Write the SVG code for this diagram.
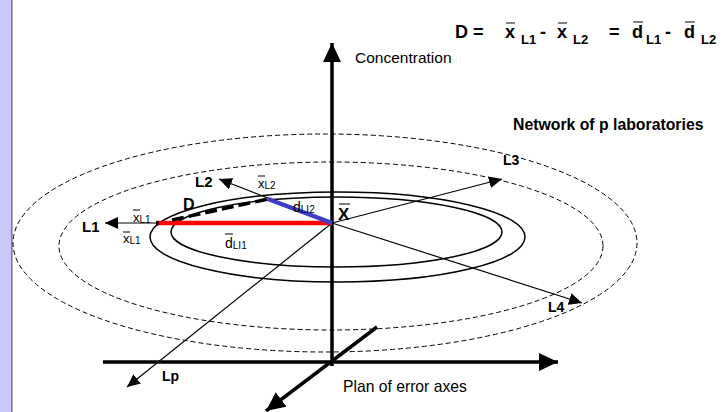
<svg xmlns="http://www.w3.org/2000/svg" width="726" height="412" viewBox="0 0 726 412">
<defs>
<style>
.t{font-family:"Liberation Sans",Arial,sans-serif;fill:#000}
.b{font-weight:bold}
.thin{stroke:#000;stroke-width:1.2;fill:none}
.dash{stroke:#000;stroke-width:1;fill:none;stroke-dasharray:5 3}
.sol{stroke:#000;stroke-width:1.5;fill:none}
.axis{stroke:#000;stroke-width:3.5;fill:none}
.bar{stroke:#000;stroke-width:1}
</style>
<marker id="ah" markerUnits="userSpaceOnUse" markerWidth="14" markerHeight="12" refX="13" refY="6" orient="auto">
<path d="M0,0 L13,6 L0,12 Z" fill="#000"/>
</marker>
<marker id="ahb" markerUnits="userSpaceOnUse" markerWidth="20" markerHeight="20" refX="19" refY="9" orient="auto">
<path d="M0,0 L19,9 L0,18 Z" fill="#000"/>
</marker>
</defs>
<rect x="0" y="0" width="726" height="412" fill="#fff"/>
<rect x="0" y="0" width="11" height="412" fill="#c8c8f8"/>
<rect x="11" y="0" width="1.6" height="412" fill="#7a7a92"/>

<g id="ellipses">
<ellipse class="dash" cx="325" cy="243" rx="312" ry="109"/>
<ellipse class="dash" cx="331" cy="246" rx="272" ry="84"/>
<ellipse class="sol" cx="337.5" cy="237" rx="187.5" ry="45"/>
<ellipse class="sol" cx="336.5" cy="232" rx="165.5" ry="35"/>
</g>

<g id="connectors">
<line class="axis" x1="103" y1="362" x2="558" y2="362" marker-end="url(#ahb)"/>
<line class="axis" x1="332" y1="366" x2="332" y2="43" marker-end="url(#ahb)"/>
<line class="axis" x1="377" y1="327" x2="266" y2="411" marker-end="url(#ahb)"/>
<line class="thin" x1="332" y1="223" x2="105" y2="223" marker-end="url(#ah)"/>
<line class="thin" x1="332" y1="223" x2="219" y2="179" marker-end="url(#ah)"/>
<line class="thin" x1="332" y1="223" x2="502" y2="179" marker-end="url(#ah)"/>
<line class="thin" x1="332" y1="223" x2="582" y2="303" marker-end="url(#ah)"/>
<line class="thin" x1="332" y1="223" x2="127" y2="387" marker-end="url(#ah)"/>
<line x1="157" y1="223" x2="332" y2="223" stroke="#ff0000" stroke-width="4.5"/>
<rect x="156" y="221" width="2.5" height="4.5" fill="#000"/>
<line x1="268" y1="199" x2="332" y2="223" stroke="#3c3cc8" stroke-width="4.5"/>
<line x1="172" y1="220" x2="268" y2="199" stroke="#000" stroke-width="3.5" stroke-dasharray="12 5"/>
</g>

<g id="formula">
<text class="t b" x="455" y="38" font-size="18">D =</text>
<text class="t b" x="505" y="38" font-size="18">x</text>
<text class="t b" x="521" y="44" font-size="13">L1</text>
<text class="t b" x="540" y="38" font-size="18">-</text>
<text class="t b" x="557" y="38" font-size="18">x</text>
<text class="t b" x="573" y="44" font-size="13">L2</text>
<text class="t b" x="609" y="38" font-size="18">=</text>
<text class="t b" x="632" y="38" font-size="18">d</text>
<text class="t b" x="646" y="44" font-size="13">L1</text>
<text class="t b" x="665" y="38" font-size="18">-</text>
<text class="t b" x="684" y="38" font-size="18">d</text>
<text class="t b" x="701" y="44" font-size="13">L2</text>
<line class="bar" x1="506" y1="23" x2="515" y2="23"/>
<line class="bar" x1="558" y1="23" x2="567" y2="23"/>
<line class="bar" x1="633" y1="22" x2="643" y2="22"/>
<line class="bar" x1="685" y1="22" x2="695" y2="22"/>
</g>

<g id="labels">
<text class="t" x="355" y="63" font-size="15.5">Concentration</text>
<text class="t b" x="513" y="130" font-size="15.8">Network of p laboratories</text>
<text class="t" x="343" y="392" font-size="15.7">Plan of error axes</text>
<text class="t b" x="162" y="381" font-size="14">Lp</text>
<text class="t b" x="82" y="232" font-size="15">L1</text>
<text class="t b" x="195" y="187" font-size="15">L2</text>
<text class="t b" x="503" y="165" font-size="14">L3</text>
<text class="t b" x="548" y="312" font-size="14">L4</text>
<text class="t b" x="183" y="210" font-size="16">D</text>
<text class="t b" x="338" y="220" font-size="17">X</text>
<line class="bar" x1="339" y1="204" x2="350" y2="204" stroke-width="1.8"/>
<text class="t" x="133" y="222" font-size="13">x<tspan font-size="10" dy="1">L1</tspan></text>
<line class="bar" x1="133" y1="210" x2="140" y2="210"/>
<text class="t" x="123" y="243" font-size="13">x<tspan font-size="10" dy="1">L1</tspan></text>
<line class="bar" x1="123" y1="232" x2="130" y2="232"/>
<text class="t" x="258" y="188" font-size="13">x<tspan font-size="10" dy="1">L2</tspan></text>
<line class="bar" x1="258" y1="176" x2="265" y2="176"/>
<text class="t" x="225" y="248" font-size="14">d<tspan font-size="10" dy="1">LI1</tspan></text>
<line class="bar" x1="225" y1="234" x2="233" y2="234"/>
<text class="t" x="293" y="212" font-size="14">d<tspan font-size="10" dy="1">LI2</tspan></text>
</g>
</svg>
